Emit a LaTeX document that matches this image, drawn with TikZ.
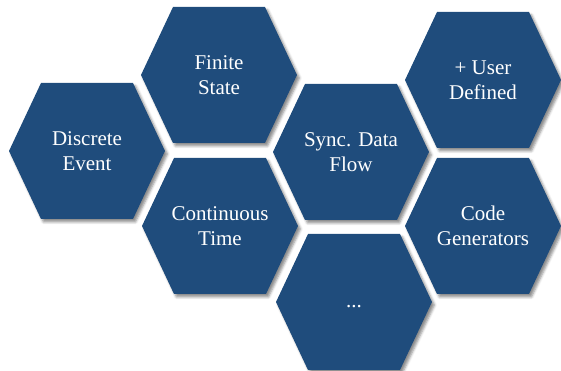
\documentclass[tikz,border=0pt]{standalone}
\usepackage{fontspec}
\newfontfamily\hexfont{Liberation Serif}
\usetikzlibrary{shadows.blur}
\definecolor{hexblue}{RGB}{31,76,124}
\tikzset{
  hexcell/.style={fill=hexblue, blur shadow={shadow xshift=2.5pt, shadow yshift=-3pt, shadow blur radius=2.5pt, shadow opacity=45}},
  hexlabel/.style={text=white, align=center, font=\hexfont\fontsize{21}{25.5}\selectfont}
}
\begin{document}
\begin{tikzpicture}[x=1pt,y=1pt]
    \useasboundingbox (0,0) rectangle (561,371);

        % Draw the honeycomb cells
    \foreach \name/\pos/\txt in {
        discrete/{87,220}/{Discrete\\Event},
        finite/{219,296}/{Finite\\State},
        continuous/{220,145}/{Continuous\\Time},
        sync/{351,219}/{Sync. Data\\Flow},
        more/{354,69}/{\strut...},
        user/{483,291}/{+ User\\Defined},
        codegen/{483,145}/{Code\\Generators}}
    {
        \fill[hexcell] (\pos) +(-78,0) -- +(-46,68) -- +(46,68) -- +(78,0) -- +(46,-68) -- +(-46,-68) -- cycle;
        \node[hexlabel] (\name) at (\pos) {\txt};
    }
  \end{tikzpicture}
\end{document}
